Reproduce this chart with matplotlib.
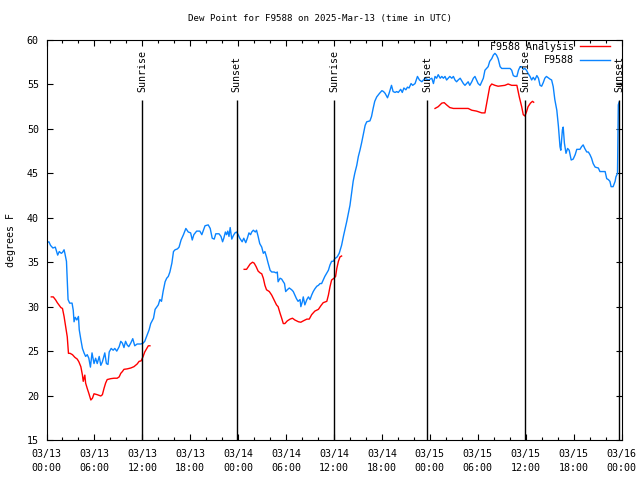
import matplotlib
matplotlib.use("Agg")
import matplotlib.pyplot as plt
import matplotlib.dates as mdates
import numpy as np
import pandas as pd

plt.rcParams['font.family'] = ['DejaVu Sans Mono']
plt.rcParams['font.size'] = 7.2

start = pd.Timestamp("2025-03-13 00:00")

# Observed dew point (hours since 03/13 00:00 UTC, degrees F)
obs_hours = [0.0, 0.3, 0.5, 0.8, 1.1, 1.2, 1.4, 1.6, 1.85, 2.0, 2.2, 2.3, 2.5, 2.6, 2.7, 2.9, 3.2, 3.35, 3.45, 3.6,
             3.8, 4.0, 4.1, 4.3, 4.5, 4.7, 4.9, 5.1, 5.3, 5.5, 5.7, 5.95, 6.15, 6.35, 6.6, 6.8, 7.0, 7.3, 7.5, 7.7,
             7.85, 8.1, 8.35, 8.55, 8.8, 9.1, 9.3, 9.5, 9.7, 9.9, 10.1, 10.3, 10.55, 10.8, 11.05, 11.35, 11.8, 12.1,
             12.3, 12.6, 12.85, 13.05, 13.4, 13.6, 14.0, 14.2, 14.4, 14.6, 14.85, 15.05, 15.25, 15.45, 15.7, 15.9,
             16.1, 16.4, 16.6, 16.85, 17.15, 17.45, 17.75, 18.05, 18.25, 18.45, 18.8, 19.2, 19.45, 19.65, 19.85,
             20.25, 20.5, 20.75, 21.0, 21.2, 21.6, 21.85, 22.05, 22.2, 22.4, 22.55, 22.7, 22.85, 23.0, 23.2, 23.4,
             23.6, 23.8, 24.0, 24.2, 24.5, 24.7, 24.95, 25.15, 25.35, 25.55, 25.7, 25.9, 26.15, 26.3, 26.5, 26.7,
             26.95, 27.15, 27.35, 27.55, 27.75, 28.0, 28.2, 28.5, 28.75, 28.9, 29.0, 29.25, 29.45, 29.65, 29.8,
             29.95, 30.15, 30.4, 30.7, 30.9, 31.1, 31.3, 31.5, 31.75, 31.85, 32.05, 32.15, 32.35, 32.6, 32.8, 33.0,
             33.2, 33.4, 33.6, 33.85, 34.05, 34.25, 34.45, 34.65, 34.85, 35.1, 35.3, 35.5, 35.7, 35.9, 36.1, 36.4,
             36.65, 36.95, 37.2, 37.4, 37.6, 37.8, 38.0, 38.2, 38.4, 38.6, 38.85, 39.05, 39.25, 39.45, 39.65, 39.9,
             40.1, 40.5, 40.7, 40.9, 41.1, 41.35, 41.7, 42.0, 42.2, 42.4, 42.7, 42.9, 43.2, 43.4, 43.65, 43.85,
             44.05, 44.35, 44.55, 44.75, 45.0, 45.2, 45.4, 45.65, 45.85, 46.15, 46.45, 46.7, 47.0, 47.2, 47.4, 47.8,
             48.25, 48.45, 48.65, 48.85, 49.05, 49.3, 49.5, 49.7, 49.9, 50.1, 50.3, 50.5, 50.75, 50.95, 51.15,
             51.35, 51.55, 51.8, 52.0, 52.2, 52.4, 52.6, 52.8, 53.0, 53.25, 53.45, 53.65, 53.85, 54.05, 54.3, 54.5,
             54.7, 54.9, 55.1, 55.3, 55.5, 55.75, 55.95, 56.15, 56.35, 56.55, 56.8, 57.0, 57.4, 58.05, 58.25, 58.45,
             58.65, 58.9, 59.1, 59.3, 59.5, 59.7, 59.9, 60.1, 60.3, 60.55, 60.75, 60.95, 61.15, 61.4, 61.6, 61.8,
             62.0, 62.2, 62.4, 62.6, 63.05, 63.25, 63.45, 63.65, 63.9, 64.1, 64.3, 64.4, 64.6, 64.7, 64.85, 65.05,
             65.25, 65.45, 65.7, 65.95, 66.2, 66.4, 66.8, 67.0, 67.2, 67.4, 67.65, 67.85, 68.05, 68.25, 68.45, 68.7,
             69.1, 69.3, 69.95, 70.15, 70.35, 70.55, 70.7, 70.95, 71.2, 71.3, 71.5, 71.6, 71.7]
obs_values = [37.2, 37.3, 36.9, 36.6, 36.7, 36.4, 35.8, 36.2, 36.0, 36.1, 36.4, 36.0, 35.1, 33.0, 30.8, 30.4, 30.4,
              29.6, 28.3, 28.8, 28.5, 28.9, 27.4, 26.3, 25.3, 24.8, 24.4, 24.6, 24.2, 23.2, 24.8, 23.6, 24.2, 23.6,
              24.4, 23.4, 23.8, 24.8, 23.6, 23.5, 24.9, 25.3, 25.1, 25.3, 25.0, 25.5, 26.1, 25.9, 25.4, 26.1, 25.7,
              25.5, 25.9, 26.4, 25.6, 25.8, 25.8, 25.9, 26.1, 26.8, 27.4, 28.1, 28.7, 29.7, 30.2, 30.8, 30.6, 31.7,
              32.8, 33.2, 33.4, 33.9, 34.9, 36.2, 36.4, 36.5, 36.7, 37.5, 38.1, 38.8, 38.4, 38.3, 37.5, 38.1, 38.5,
              38.5, 38.1, 38.6, 39.1, 39.2, 38.8, 37.7, 37.6, 38.2, 38.2, 37.9, 37.3, 37.7, 38.4, 38.1, 38.5, 37.9,
              38.9, 37.6, 38.0, 38.3, 38.4, 38.1, 37.7, 37.3, 37.7, 37.2, 37.7, 38.3, 38.1, 38.4, 38.6, 38.4, 38.6,
              37.9, 37.1, 36.7, 36.0, 36.2, 35.6, 34.9, 34.1, 33.9, 33.9, 33.8, 33.9, 32.8, 33.2, 33.1, 32.8, 32.6,
              31.7, 31.9, 32.1, 31.9, 31.7, 31.3, 30.9, 30.6, 30.8, 30.0, 30.6, 31.1, 30.2, 30.8, 31.1, 30.8, 31.3,
              31.7, 32.0, 32.3, 32.4, 32.6, 32.6, 33.0, 33.4, 33.8, 34.1, 34.7, 35.1, 35.1, 35.4, 35.6, 36.0, 36.9,
              38.0, 38.8, 39.6, 40.5, 41.4, 42.75, 44.1, 45.0, 45.9, 46.9, 47.6, 48.4, 49.3, 50.4, 50.8, 50.9, 51.4,
              52.3, 53.1, 53.6, 54.0, 54.3, 54.2, 54.0, 53.5, 54.0, 54.9, 54.2, 54.1, 54.2, 54.1, 54.45, 54.1, 54.6,
              54.4, 54.7, 54.6, 55.1, 54.9, 55.1, 55.9, 55.5, 55.3, 55.5, 55.7, 55.5, 55.7, 55.1, 55.9, 55.7, 56.1,
              55.7, 55.9, 55.7, 55.9, 55.5, 55.7, 55.9, 55.7, 55.9, 55.5, 55.3, 55.5, 55.7, 55.4, 55.1, 54.9, 55.1,
              55.3, 54.9, 55.3, 55.7, 55.9, 55.5, 55.1, 54.9, 55.3, 55.7, 56.6, 56.8, 57.0, 57.6, 57.9, 58.3, 58.5,
              58.3, 57.9, 57.0, 56.8, 56.8, 56.8, 56.6, 56.0, 55.9, 55.9, 56.6, 57.0, 57.0, 56.7, 56.8, 56.6, 56.25,
              55.9, 55.5, 55.8, 55.5, 56.0, 55.7, 54.9, 54.8, 55.2, 55.7, 55.9, 55.6, 55.5, 54.75, 53.3, 52.1, 50.3,
              48.0, 47.6, 49.9, 50.2, 48.4, 47.25, 47.8, 47.6, 46.5, 46.6, 47.1, 47.7, 47.7, 48.0, 48.2, 47.8, 47.4,
              47.4, 47.1, 46.7, 46.1, 45.7, 45.6, 45.2, 45.2, 44.4, 44.3, 44.1, 43.5, 43.5, 44.1, 44.6, 45.0, 52.7,
              53.0]

# Analysis dew point (NaN = no analysis)
ana_hours = [0.6, 0.85, 1.15, 1.35, 1.55, 1.8, 2.0, 2.2, 2.4, 2.6, 2.75, 2.95, 3.25, 3.55, 3.85, 4.05, 4.3, 4.5,
             4.6, 4.8, 4.9, 5.1, 5.3, 5.55, 5.75, 5.95, 6.35, 6.8, 7.0, 7.2, 7.4, 7.6, 8.05, 8.45, 8.85, 9.1, 9.3,
             9.5, 9.7, 10.1, 10.55, 10.95, 11.35, 11.6, 11.85, 12.1, 12.3, 12.55, 12.75, 12.95, 18.0,
             24.75, 25.05, 25.5, 25.8, 26.0, 26.25, 26.5, 26.75, 26.95, 27.15, 27.35, 27.55, 27.9, 28.2, 28.5,
             28.8, 29.0, 29.25, 29.45, 29.65, 29.85, 30.15, 30.5, 30.8, 31.1, 31.55, 31.85, 32.15, 32.6, 32.9,
             33.2, 33.6, 34.05, 34.35, 34.65, 35.1, 35.3, 35.5, 35.7, 36.0, 36.2, 36.35, 36.55, 36.75, 36.95, 42.0,
             48.65, 49.05, 49.5, 49.8, 50.1, 50.5, 50.95, 51.8, 52.8, 53.25, 53.85, 54.5, 54.9, 55.2, 55.5, 55.75,
             56.15, 56.55, 57.0, 57.4, 57.8, 58.25, 58.9, 59.2, 59.5, 59.7, 59.9, 60.1, 60.3, 60.6, 60.85, 61.0]
ana_values = [31.1, 31.1, 30.75, 30.45, 30.2, 29.9, 29.8, 28.9, 27.75, 26.6, 24.75, 24.75, 24.6, 24.3, 24.1, 23.8,
              23.25, 22.3, 21.6, 22.3, 21.4, 20.8, 20.25, 19.5, 19.7, 20.2, 20.1, 19.95, 20.1, 20.8, 21.4, 21.8,
              21.9, 21.95, 21.95, 22.1, 22.5, 22.7, 22.95, 23.0, 23.1, 23.25, 23.55, 23.85, 23.9, 24.4, 24.9, 25.3,
              25.6, 25.6, np.nan,
              34.2, 34.2, 34.8, 35.0, 34.9, 34.5, 34.0, 33.8, 33.7, 33.2, 32.4, 31.9, 31.7, 31.3, 30.75, 30.2, 30.0,
              29.25, 28.7, 28.1, 28.1, 28.4, 28.6, 28.7, 28.5, 28.3, 28.25, 28.4, 28.6, 28.6, 29.1, 29.5, 29.7, 30.1,
              30.45, 30.6, 31.3, 32.25, 33.0, 33.2, 33.4, 34.3, 35.1, 35.6, 35.7, np.nan,
              52.3, 52.5, 52.9, 52.95, 52.7, 52.4, 52.3, 52.3, 52.3, 52.1, 52.0, 51.8, 51.8, 53.25, 54.75, 55.05,
              54.9, 54.8, 54.85, 54.9, 55.05, 54.9, 54.9, 53.6, 52.5, 51.6, 51.45, 51.9, 52.5, 52.9, 53.1, 53.0]

# Sun events (hours since start)
sun_hours = [12.0, 23.8, 36.0, 47.7, 59.95, 71.7]
sun_labels = ["Sunrise", "Sunset", "Sunrise", "Sunset", "Sunrise", "Sunset"]

title = "Dew Point for F9588 on 2025-Mar-13 (time in UTC)"
ylabel = "degrees F"

def to_time(h):
    return start + pd.to_timedelta(np.asarray(h, dtype=float), unit="h")

fig = plt.figure(figsize=(6.4, 4.8), dpi=100)
ax = fig.add_axes([46.5 / 640, 40 / 480, 575 / 640, 400 / 480])

ax.plot(to_time(ana_hours), ana_values, color="#ff0000", lw=1.0, label="F9588 Analysis")
ax.plot(to_time(obs_hours), obs_values, color="#0a84ff", lw=1.0, label="F9588")

for h, lab in zip(sun_hours, sun_labels):
    t = to_time([h])[0]
    ax.vlines(t, 15, 53.3, color="black", lw=1.0)
    ax.text(t, 54.15, lab, rotation=90, ha="center", va="bottom", fontsize=7.2)

ax.set_xlim(start, start + pd.Timedelta(hours=72))
ax.set_ylim(15, 60)
ax.set_yticks(np.arange(15, 61, 5))
ax.xaxis.set_major_locator(mdates.HourLocator(byhour=[0, 6, 12, 18]))
ax.xaxis.set_minor_locator(mdates.HourLocator(interval=2))
ax.xaxis.set_major_formatter(mdates.DateFormatter("%m/%d\n%H:%M"))
ax.tick_params(axis="both", which="major", direction="in", length=4, width=0.8,
               top=True, right=True, labelsize=7.2)
ax.tick_params(axis="x", which="major", pad=6.5)
ax.tick_params(axis="y", which="major", pad=5.5)
ax.tick_params(axis="both", which="minor", direction="in", length=2.5, width=0.8, top=True, right=True)
for s in ax.spines.values():
    s.set_linewidth(0.8)

fig.text(0.5, 1 - 19 / 480, title, fontsize=6.6, ha="center", va="center")
ax.set_ylabel(ylabel, fontsize=7.2, labelpad=8)

leg = ax.legend(loc="upper right", bbox_to_anchor=(0.98, 0.995), frameon=False, markerfirst=False,
                handlelength=3.0, borderpad=0, borderaxespad=0, labelspacing=0.35, handletextpad=0.6,
                fontsize=7.2)

fig.canvas.draw()
for lbl in ax.get_xticklabels():
    lbl.set_linespacing(1.45)

fig.savefig("out.png", dpi=100)
